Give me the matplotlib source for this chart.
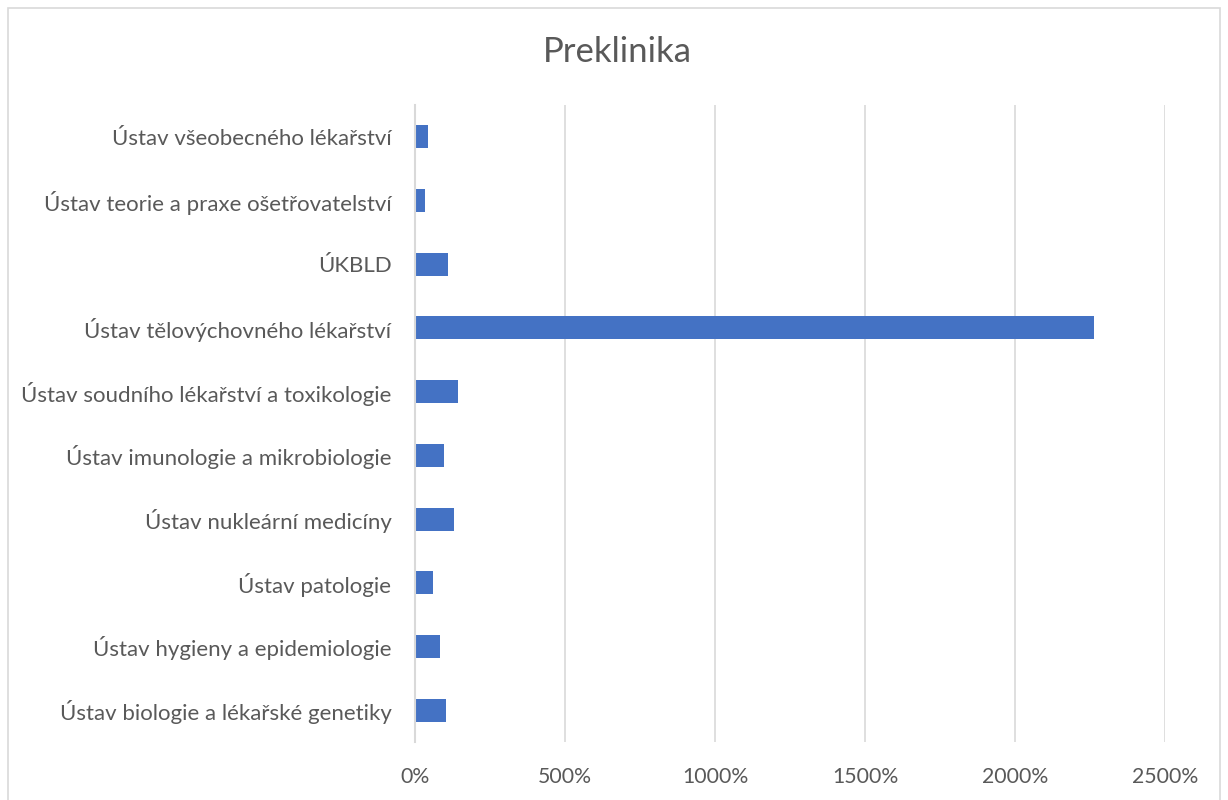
import matplotlib
matplotlib.use("Agg")
import matplotlib.pyplot as plt
from matplotlib.patches import Rectangle
from matplotlib.ticker import FuncFormatter

categories = [
    "Ústav biologie a lékařské genetiky",
    "Ústav hygieny a epidemiologie",
    "Ústav patologie",
    "Ústav nukleární medicíny",
    "Ústav imunologie a mikrobiologie",
    "Ústav soudního lékařství a toxikologie",
    "Ústav tělovýchovného lékařství",
    "ÚKBLD",
    "Ústav teorie a praxe ošetřovatelství",
    "Ústav všeobecného lékařství",
]
values = [102, 83, 60, 131, 98, 142, 2263, 110, 32, 42]  # percent
xticks = [0, 500, 1000, 1500, 2000, 2500]

plt.rcParams['font.family'] = ['Lato', 'DejaVu Sans']
text_color = "#595959"
grid_color = "#d9d9d9"

fig = plt.figure(figsize=(12.28, 8.0), dpi=100)
ax = fig.add_axes([415/1228, 1-742/800, (1165-415)/1228, (742-105)/800])

y = list(range(len(categories)))
ax.barh(y, values, height=0.36, color="#4472c4", zorder=3)
ax.set_ylim(-0.5, len(categories)-0.5)
ax.set_xlim(0, 2500)
ax.set_xticks(xticks)
ax.xaxis.set_major_formatter(FuncFormatter(lambda v, p: f"{int(v)}%"))
ax.set_yticks(y)
ax.set_yticklabels(categories)
ax.tick_params(axis='x', length=0, pad=18, labelsize=15.3, labelcolor=text_color)
ax.tick_params(axis='y', length=0, pad=17, labelsize=16, labelcolor=text_color)
ax.grid(axis='x', color=grid_color, linewidth=1.2, zorder=0)
for s in ['top', 'right', 'bottom']:
    ax.spines[s].set_visible(False)
ax.spines['left'].set_color(grid_color)
ax.spines['left'].set_linewidth(1.5)
ax.spines['left'].set_zorder(4)

fig.text(617/1228, 1-52/800, "Preklinika", ha='center', va='center',
         fontsize=25, color=text_color)

fig.patches.append(Rectangle((8/1228, -0.01), (1220-8)/1228, 1-8/800+0.01,
                             transform=fig.transFigure, fill=False,
                             edgecolor=grid_color, linewidth=1.2))

fig.savefig("out.png", dpi=100)
